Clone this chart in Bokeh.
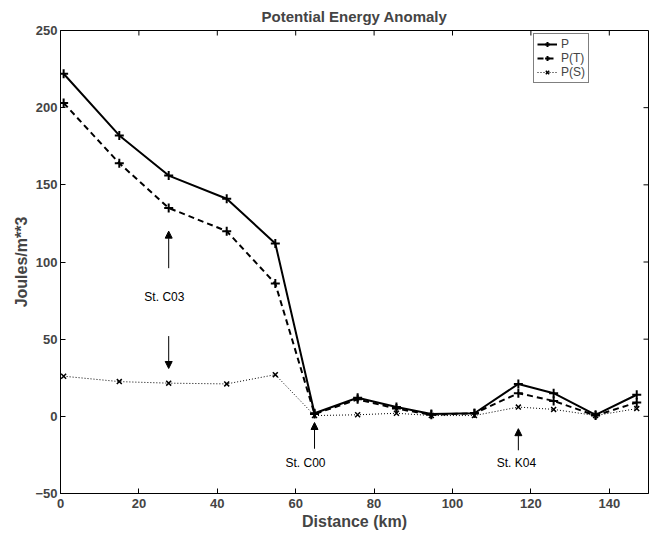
import math
from bokeh.plotting import figure
from bokeh.models import (Range1d, FixedTicker, Legend, LegendItem,
                          Arrow, NormalHead, Label)
from bokeh.embed import file_html
from bokeh.resources import INLINE

# ---- data ----
distance_km = [0.8, 15.0, 27.6, 42.4, 54.8, 64.8, 75.8, 85.7, 94.6, 105.6, 116.8, 125.8, 136.5, 147.0]
p_total = [222, 182, 156, 141, 112, 2, 12, 6, 1.5, 2, 21, 15, 1, 14]
p_temp = [203, 164, 135, 120, 86, 1.5, 11, 5, 1, 2, 15, 10, 0.5, 9]
p_salt = [26, 22.5, 21.5, 21, 27, 0.5, 1, 2, 0.5, 0.5, 6, 4.5, 0.5, 5]

x_ticks = [0, 20, 40, 60, 80, 100, 120, 140]
y_ticks = [-50, 0, 50, 100, 150, 200, 250]
x_limits = [0, 150]
y_limits = [-50, 250]

# station annotations: label, label x, label y, arrow x, arrow tail y, arrow tip y
station_labels = ["St. C03", "St. C00", "St. K04"]
label_x = [26.5, 62.5, 116.3]
label_y = [77, -30, -30]
arrow_x = [27.6, 27.6, 64.8, 116.8]
arrow_tail_y = [96, 52, -21, -22]
arrow_tip_y = [120, 31, -4, -8]

FONT = "Liberation Sans"

p = figure(width=657, height=539, output_backend="svg", toolbar_location=None,
           x_range=Range1d(*x_limits), y_range=Range1d(*y_limits),
           min_border_left=60, min_border_right=9, min_border_top=30, min_border_bottom=46,
           title="Potential Energy Anomaly")
p.background_fill_color = "white"
p.border_fill_color = "white"
p.outline_line_color = "black"
p.outline_line_width = 1
p.grid.visible = False

p.title.align = "center"
p.title.text_font = FONT
p.title.text_font_size = "15px"
p.title.text_font_style = "bold"
p.title.offset = 0
p.title.standoff = 11

p.xaxis.ticker = FixedTicker(ticks=x_ticks)
p.yaxis.ticker = FixedTicker(ticks=y_ticks)
p.xaxis.axis_label = "Distance (km)"
p.yaxis.axis_label = "Joules/m**3"
for ax in (p.xaxis[0], p.yaxis[0]):
    ax.axis_label_text_font = FONT
    ax.axis_label_text_font_size = "16px"
    ax.axis_label_text_font_style = "bold"
    ax.major_label_text_font = FONT
    ax.major_label_text_font_size = "13px"
    ax.major_label_text_font_style = "bold"
    ax.major_tick_in = 5
    ax.major_tick_out = 0
    ax.minor_tick_line_color = None
    ax.axis_line_color = "black"
    ax.major_label_standoff = 3
p.xaxis.major_label_standoff = 5
p.xaxis.axis_label_standoff = 2
p.yaxis.axis_label_standoff = 2

# inward ticks on the top and right frame edges (MATLAB box style)
p.ray(x=x_ticks, y=[y_limits[1]] * len(x_ticks), length=5, length_units="screen",
      angle=-math.pi / 2, line_color="black", line_width=1)
p.ray(x=[x_limits[1]] * len(y_ticks), y=y_ticks, length=5, length_units="screen",
      angle=math.pi, line_color="black", line_width=1)

# ---- series ----
r1 = p.line(distance_km, p_total, line_color="black", line_width=2)
m1 = p.scatter(distance_km, p_total, marker="cross", size=9, line_color="black", line_width=2)
r2 = p.line(distance_km, p_temp, line_color="black", line_width=2, line_dash="6 4")
m2 = p.scatter(distance_km, p_temp, marker="cross", size=9, line_color="black", line_width=2)
r3 = p.line(distance_km, p_salt, line_color="black", line_width=1, line_dash="1 2")
m3 = p.scatter(distance_km, p_salt, marker="x", size=7, line_color="black", line_width=1.5)

legend = Legend(items=[LegendItem(label="P", renderers=[r1, m1]),
                       LegendItem(label="P(T)", renderers=[r2, m2]),
                       LegendItem(label="P(S)", renderers=[r3, m3])],
                location=(473, 410), orientation="vertical")
legend.label_text_font = FONT
legend.label_text_font_size = "12px"
legend.label_height = 12
legend.glyph_height = 12
legend.glyph_width = 20
legend.label_standoff = 4
legend.padding = 3
legend.spacing = 0
legend.margin = 0
legend.border_line_color = "black"
legend.border_line_width = 1
legend.background_fill_alpha = 1
p.add_layout(legend)

# ---- annotations ----
for ax_, y0, y1 in zip(arrow_x, arrow_tail_y, arrow_tip_y):
    p.add_layout(Arrow(end=NormalHead(size=7, fill_color="black", line_color="black"),
                       x_start=ax_, y_start=y0, x_end=ax_, y_end=y1,
                       line_color="black", line_width=1))
for txt, lx, ly in zip(station_labels, label_x, label_y):
    p.add_layout(Label(x=lx, y=ly, text=txt, text_font=FONT, text_font_size="12px",
                       text_align="center", text_baseline="middle", text_color="black"))

open("out.html", "w").write(file_html(p, INLINE))
